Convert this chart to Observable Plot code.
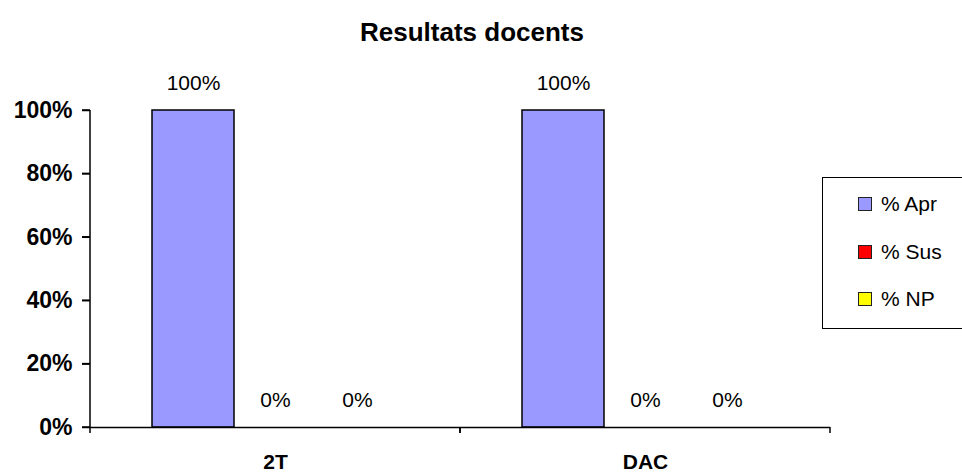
<!DOCTYPE html>
<html>
<head>
<meta charset="utf-8">
<script src="https://cdn.jsdelivr.net/npm/d3@7"></script>
<script src="https://cdn.jsdelivr.net/npm/@observablehq/plot@0.6"></script>
<style>
  html, body { margin: 0; padding: 0; background: #fff; }
  #wrap { position: relative; width: 962px; height: 474px; overflow: hidden; font-family: "Liberation Sans", Arial, sans-serif; background: #fff; }
  #title { height: 60px; box-sizing: border-box; padding-top: 17px; padding-right: 18px; text-align: center; font-size: 26px; line-height: 30px; font-weight: bold; color: #000; }
  #legend { position: absolute; left: 822px; top: 177px; width: 170px; height: 152px; box-sizing: border-box; border: 1.5px solid #000; background: #fff; }
  .item { position: absolute; left: 35px; height: 24px; display: flex; align-items: center; font-size: 21px; color: #000; }
  .sw { width: 12px; height: 12px; border: 1px solid #222; margin-right: 9px; }
</style>
</head>
<body>
<div id="wrap">
  <div id="title">Resultats docents</div>
  <div id="chart"></div>
  <div id="legend"></div>
</div>
<script>
const categories = ["2T", "DAC"];
const series = ["% Apr", "% Sus", "% NP"];
const colors = ["#9999FF", "#FF0000", "#FFFF00"];
const aprValues = [1.0, 1.0];
const susValues = [0.0, 0.0];
const npValues = [0.0, 0.0];
const yTicks = [0, 0.2, 0.4, 0.6, 0.8, 1.0];

const valuesBySeries = [aprValues, susValues, npValues];
const data = [];
categories.forEach((c, i) => {
  series.forEach((s, j) => data.push({category: c, series: s, value: valuesBySeries[j][i]}));
});

const pct = d3.format(".0%");

// category boundary ticks below the x axis (drawn in every facet)
const edgeTicks = (index, scales, values, dimensions) => {
  const g = d3.create("svg:g").attr("stroke", "#000").attr("stroke-width", 1.5);
  const y0 = scales.y(0);
  for (const x of [dimensions.marginLeft, dimensions.width - dimensions.marginRight]) {
    g.append("line").attr("x1", x).attr("x2", x).attr("y1", y0).attr("y2", y0 + 6);
  }
  return g.node();
};

// y axis line and tick marks, drawn only in the first (leftmost) facet
let yAxisDrawn = false;
const yAxisLine = (index, scales, values, dimensions) => {
  const g = d3.create("svg:g").attr("stroke", "#000").attr("stroke-width", 1.5);
  if (yAxisDrawn) return g.node();
  yAxisDrawn = true;
  const x0 = dimensions.marginLeft;
  g.append("line").attr("x1", x0).attr("x2", x0).attr("y1", scales.y(0)).attr("y2", scales.y(1));
  for (const t of yTicks) {
    g.append("line").attr("x1", x0 - 8).attr("x2", x0).attr("y1", scales.y(t)).attr("y2", scales.y(t));
  }
  return g.node();
};

const chart = Plot.plot({
  width: 962,
  height: 414,
  marginTop: 50,
  marginBottom: 47,
  marginLeft: 90,
  marginRight: 132,
  style: {fontFamily: "'Liberation Sans', Arial, sans-serif", background: "#fff", color: "#000"},
  fx: {domain: categories, padding: 0, axis: null},
  x: {domain: series, paddingInner: 0, paddingOuter: 0.756, axis: null},
  y: {domain: [0, 1], range: [367, 50], axis: null},
  color: {domain: series, range: colors},
  marks: [
    Plot.barY(data, {fx: "category", x: "series", y: "value", fill: "series", stroke: "#000", strokeWidth: 1.5}),
    Plot.text(data, {fx: "category", x: "series", y: "value", text: d => pct(d.value), dy: -27, fontSize: 21, fill: "#000"}),
    Plot.ruleY([0], {stroke: "#000", strokeWidth: 1.5}),
    edgeTicks,
    yAxisLine,
    Plot.text(categories, {fx: d => d, frameAnchor: "bottom", dy: 41, text: d => d, fontSize: 21, fontWeight: "bold", fill: "#000"}),
    Plot.axisY(yTicks, {anchor: "left", label: null, tickFormat: pct, tickSize: 8, tickPadding: 10, fontSize: 23, fontWeight: "bold", stroke: "#000", strokeWidth: 1.5})
  ]
});
document.getElementById("chart").appendChild(chart);

const legend = document.getElementById("legend");
const rowCenters = [26, 74, 121];
series.forEach((s, i) => {
  const item = document.createElement("div");
  item.className = "item";
  item.style.top = (rowCenters[i] - 12) + "px";
  const sw = document.createElement("span");
  sw.className = "sw";
  sw.style.background = colors[i];
  const t = document.createElement("span");
  t.textContent = s;
  item.appendChild(sw);
  item.appendChild(t);
  legend.appendChild(item);
});
</script>
</body>
</html>
